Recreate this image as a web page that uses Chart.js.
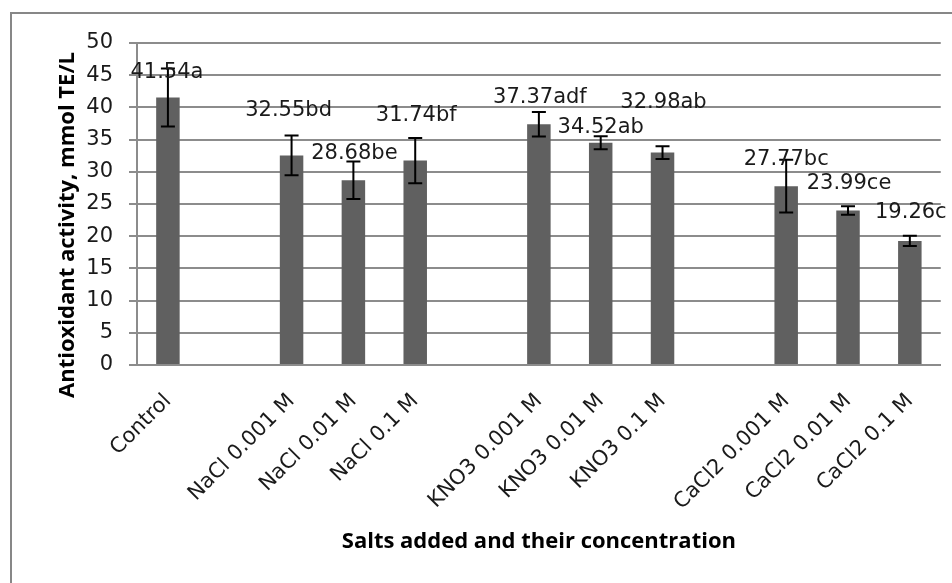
<!DOCTYPE html>
<html>
<head>
<meta charset="utf-8">
<script src="https://cdn.jsdelivr.net/npm/chart.js@4.4.1/dist/chart.umd.min.js"></script>
<style>
  html, body { margin: 0; padding: 0; background: #fff; }
  #wrap { width: 952px; height: 583px; }
</style>
</head>
<body>
<div id="wrap"><canvas id="chart" width="952" height="583"></canvas></div>
<script>
// categories (empty slots are the gaps between salt groups)
const categories = ['Control', '', 'NaCl 0.001 M', 'NaCl 0.01 M', 'NaCl 0.1 M', '',
  'KNO3 0.001 M', 'KNO3 0.01 M', 'KNO3 0.1 M', '',
  'CaCl2 0.001 M', 'CaCl2 0.01 M', 'CaCl2 0.1 M'];
const activity = [41.54, null, 32.55, 28.68, 31.74, null, 37.37, 34.52, 32.98, null, 27.77, 23.99, 19.26];
const errors = [4.5, null, 3.1, 2.9, 3.5, null, 1.9, 1.0, 1.0, null, 4.1, 0.65, 0.8];
const letters = ['a', '', 'bd', 'be', 'bf', '', 'adf', 'ab', 'ab', '', 'bc', 'ce', 'c'];
const yTicks = [0, 5, 10, 15, 20, 25, 30, 35, 40, 45, 50];

const xTitle = 'Salts added and their concentration';
const yTitle = 'Antioxidant activity, mmol TE/L';

// label nudges in px, like the hand-moved Excel labels
const labelShift = [[-1, -25], null, [-3, -45], [1, -27], [1, -45], null,
  [1, -27], [0, -15], [1, -50], null, [0, -27], [1, -27], [1, -28]];

const gridGrey = '#8c8c8c';
const mainFont = 'DejaVu Sans';

const errorBars = {
  id: 'errorBars',
  afterDatasetsDraw(chart) {
    const meta = chart.getDatasetMeta(0);
    const ys = chart.scales.y;
    const ctx = chart.ctx;
    ctx.save();
    ctx.strokeStyle = '#000';
    ctx.lineWidth = 2;
    activity.forEach((v, i) => {
      if (v == null) return;
      const x = meta.data[i].x;
      const top = ys.getPixelForValue(v + errors[i]);
      const bot = ys.getPixelForValue(v - errors[i]);
      ctx.beginPath();
      ctx.moveTo(x, top); ctx.lineTo(x, bot);
      ctx.moveTo(x - 7, top); ctx.lineTo(x + 7, top);
      ctx.moveTo(x - 7, bot); ctx.lineTo(x + 7, bot);
      ctx.stroke();
    });
    // value labels
    ctx.fillStyle = '#1a1a1a';
    ctx.font = '21px "' + mainFont + '"';
    ctx.textAlign = 'center';
    ctx.textBaseline = 'middle';
    activity.forEach((v, i) => {
      if (v == null) return;
      const bar = meta.data[i];
      const s = labelShift[i];
      ctx.fillText(v.toFixed(2) + letters[i], bar.x + s[0], bar.y + s[1]);
    });
    ctx.restore();
  }
};

const frame = {
  id: 'frame',
  afterDraw(chart) {
    const ctx = chart.ctx;
    const area = chart.chartArea;
    ctx.save();
    // outer chart border (runs off the right and bottom edge)
    ctx.strokeStyle = '#878787';
    ctx.lineWidth = 2;
    ctx.beginPath();
    ctx.moveTo(11, 590); ctx.lineTo(11, 13); ctx.lineTo(960, 13);
    ctx.stroke();
    // axis titles
    ctx.fillStyle = '#000';
    ctx.font = 'bold 22px "Open Sans"';
    ctx.textAlign = 'center';
    ctx.textBaseline = 'middle';
    ctx.fillText(xTitle, (area.left + area.right) / 2, 542);
    ctx.translate(68, 225);
    ctx.rotate(-Math.PI / 2);
    ctx.fillText(yTitle, 0, 0);
    ctx.restore();
  }
};

new Chart(document.getElementById('chart'), {
  type: 'bar',
  data: {
    labels: categories,
    datasets: [{
      data: activity,
      backgroundColor: '#606060',
      barPercentage: 0.38,
      categoryPercentage: 1
    }]
  },
  options: {
    responsive: false,
    animation: false,
    layout: { padding: { top: 43, right: 9, left: 0, bottom: 0 } },
    plugins: { legend: { display: false }, tooltip: { enabled: false } },
    scales: {
      x: {
        grid: { display: false, drawTicks: false },
        border: { display: true, color: gridGrey, width: 2 },
        ticks: {
          autoSkip: false,
          minRotation: 45,
          maxRotation: 45,
          padding: 24,
          color: '#1a1a1a',
          font: { family: mainFont, size: 21 }
        },
        afterFit(scale) { scale.height = 218; }
      },
      y: {
        min: 0,
        max: 50,
        afterBuildTicks(scale) { scale.ticks = yTicks.map(v => ({ value: v })); },
        grid: { color: gridGrey, lineWidth: 2, tickLength: 8 },
        border: { display: true, color: gridGrey, width: 2 },
        ticks: {
          padding: 16,
          color: '#1a1a1a',
          font: { family: mainFont, size: 21 }
        },
        afterFit(scale) { scale.width = 137; }
      }
    }
  },
  plugins: [errorBars, frame]
});
</script>
</body>
</html>
